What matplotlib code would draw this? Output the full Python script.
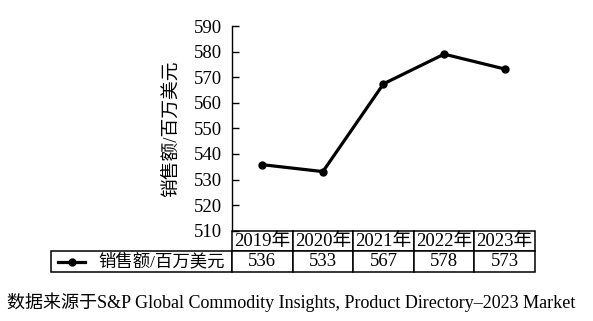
import matplotlib
matplotlib.use("Agg")
import matplotlib.pyplot as plt

plt.rcParams['font.family'] = ['Liberation Serif', 'Noto Sans CJK SC']

# data
years = ['2019年', '2020年', '2021年', '2022年', '2023年']
line_values = [535.8, 533.1, 567.4, 579.0, 573.2]   # where the points sit on the plot
table_values = ['536', '533', '567', '578', '573']  # numbers printed in the table
series_label = '销售额/百万美元'
y_ticks = [510, 520, 530, 540, 550, 560, 570, 580, 590]
source_text = '数据来源于S&P Global Commodity Insights, Product Directory–2023 Market'

fig = plt.figure(figsize=(5.93, 3.21), dpi=100)
ax = fig.add_axes([0.3912, 0.2813, 0.511, 0.6377])

x = list(range(len(years)))
ax.plot(x, line_values, color='black', lw=2.3, marker='o', markersize=5)

ax.set_xlim(-0.5, len(years) - 0.5)
ax.set_ylim(y_ticks[0], y_ticks[-1])
ax.set_yticks(y_ticks)
ax.set_xticks([])
for side in ['top', 'right', 'bottom']:
    ax.spines[side].set_visible(False)
ax.spines['left'].set_linewidth(1.0)
ax.tick_params(axis='y', direction='in', length=5, width=1, pad=7, labelsize=13.5)

ax.set_ylabel(series_label, fontsize=13.5)
ax.yaxis.set_label_coords(-0.17, 0.5)

# data table under the axes
label_w = 0.597
tbl = ax.table(cellText=[[series_label] + table_values],
               colLabels=[''] + years,
               colWidths=[label_w] + [1.0 / len(years)] * len(years),
               cellLoc='center',
               bbox=[-label_w, -0.2018, 1 + label_w, 0.2018])
tbl.auto_set_font_size(False)
tbl.set_fontsize(13.5)
for (r, c), cell in tbl.get_celld().items():
    cell.set_linewidth(1.1)
    cell.set_edgecolor('black')
tbl[0, 0].visible_edges = ''
lab = tbl[1, 0]
lab.PAD = 0.04
lab.get_text().set_ha('right')
lab.get_text().set_fontsize(12.5)
lab._loc = 'right'

# legend sample inside the label cell
ax.plot([-0.574, -0.485], [-0.152, -0.152], color='black', lw=2.3,
        transform=ax.transAxes, clip_on=False)
ax.plot([-0.5295], [-0.152], color='black', marker='o', markersize=5,
        transform=ax.transAxes, clip_on=False)

fig.text(0.012, 0.059, source_text, fontsize=13, va='center', ha='left')

fig.savefig('out.png', dpi=100)
